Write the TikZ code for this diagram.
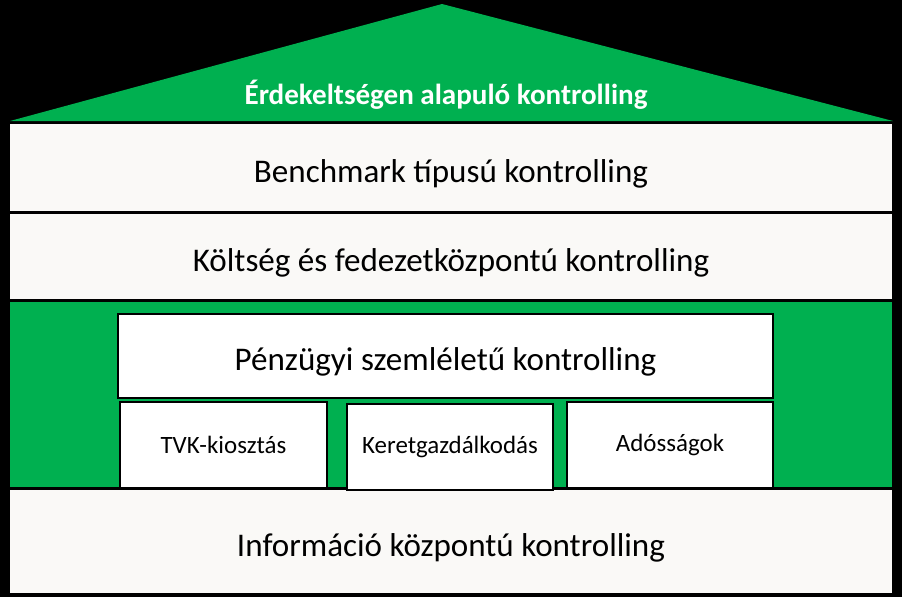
\documentclass[tikz,border=0pt]{standalone}
\usepackage{fontspec}
\setmainfont{Carlito}
\usetikzlibrary{positioning}
\definecolor{roofgreen}{RGB}{0,176,80}
\definecolor{bandwhite}{RGB}{250,249,247}
\newcommand{\px}{0.75pt}

\begin{document}
\begin{tikzpicture}[x=0.75pt, y=-0.75pt,
	band/.style={draw=black, line width=1.5*\px, fill=bandwhite, inner sep=0pt, outer sep=0pt,
		minimum width=884*\px, text height=24pt, text depth=2pt, font=\fontsize{24.8}{29}\selectfont},
	pillar/.style={draw=black, line width=1.5*\px, fill=white, inner sep=0pt, outer sep=0pt,
		minimum width=206*\px, minimum height=86*\px, font=\fontsize{18.7}{22}\selectfont}]

	% hatter
	\fill[black] (0,0) rectangle (902,597);
	\useasboundingbox (0,0) rectangle (902,597);

	% teto
	\fill[roofgreen] (10,121) -- (442,4) -- (893,121) -- cycle;
	\node[text=white, font=\bfseries\fontsize{21.8}{26}\selectfont] (roof) at (446,95) {Érdekeltségen alapuló kontrolling};

	% sávok
	\node[band, minimum height=89*\px] (bench) at (451,167.5) {Benchmark típusú kontrolling};
	\node[band, minimum height=87*\px] (cost) at (451,256.5) {Költség és fedezetközpontú kontrolling};
	\node[band, fill=roofgreen, minimum height=187*\px] (mid) at (451,394.5) {};
	\node[band, minimum height=105*\px] (info) at (451,541.5) {Információ központú kontrolling};

	% pénzügyi rész
	\node[band, fill=white, minimum width=655*\px, minimum height=84*\px] (fin) at (445.5,356) {Pénzügyi szemléletű kontrolling};
	\node[pillar, minimum width=207*\px] (tvk) at (223.5,445) {TVK-kiosztás};
	\node[pillar] (keret) at (450,447) {Keretgazdálkodás};
	\node[pillar] (debt) at (670,445) {Adósságok};

\end{tikzpicture}
\end{document}
